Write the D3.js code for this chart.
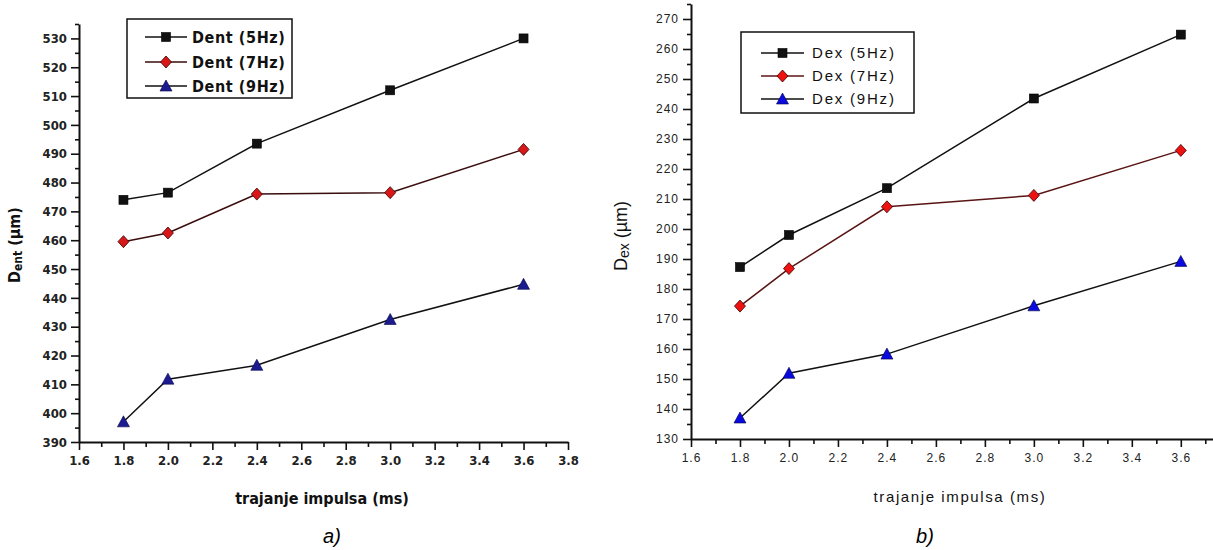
<!DOCTYPE html>
<html>
<head>
<meta charset="utf-8">
<script src="https://cdn.jsdelivr.net/npm/d3@7"></script>
<style>
  body { margin: 0; background: #fff; }
  svg { display: block; }
</style>
</head>
<body>
<div></div>
<script>
// x values (trajanje impulsa, ms)
let impulsi = [1.8, 2.0, 2.4, 3.0, 3.6];

// panel a) Dent
let dent5 = [474, 476.5, 493.5, 512, 530];
let dent7 = [459.5, 462.5, 476, 476.5, 491.5];
let dent9 = [397, 411.8, 416.6, 432.5, 444.7];
let dentLabels = ["Dent (5Hz)", "Dent (7Hz)", "Dent (9Hz)"];

// panel b) Dex
let dex5 = [187.3, 198, 213.6, 243.5, 264.8];
let dex7 = [174.3, 186.8, 207.4, 211.2, 226.2];
let dex9 = [137, 151.9, 158.3, 174.4, 189.2];
let dexLabels = ["Dex (5Hz)", "Dex (7Hz)", "Dex (9Hz)"];

let xTicks = [1.6, 1.8, 2.0, 2.2, 2.4, 2.6, 2.8, 3.0, 3.2, 3.4, 3.6, 3.8];
let dentTicks = d3.range(390, 531, 10);
let dexTicks = d3.range(130, 271, 10);

let svgWidth = 1213;
let svgHeight = 550;

let svg = d3.select("body div")
    .append("svg")
    .attr("width", svgWidth)
    .attr("height", svgHeight);

// panel styles
let panelA = {
    x0: 79, x1: 568, yTop: 24, yBot: 442,
    yDomain: [390, 535], yTicks: dentTicks,
    series: [dent5, dent7, dent9], labels: dentLabels,
    font: "'Liberation Sans Narrow', 'DejaVu Sans Condensed', Arial, sans-serif",
    weight: "bold", spacing: 0, tickSize: 13,
    lineColors: ["#111", "#3a0d0d", "#111"],
    markColors: ["#111", "#d81818", "#1c1c90"],
    legend: {x: 127, y: 19, w: 165, h: 79, rows: [37, 62, 86], lx0: 145, lx1: 187, tx: 192, fs: 16, ls: 0.6},
    yTitle: {x: 20, y: 245, main: "D", sub: "ent", rest: " (\u00b5m)", fs: 16},
    xTitle: {x: 322, y: 504, fs: 16, ls: 0},
    caption: {x: 332, y: 543, text: "a)"}
};

let panelB = {
    x0: 691, x1: 691 + 2.2 * 244.9, yTop: 4, yBot: 439,
    yDomain: [130, 275], yTicks: dexTicks,
    series: [dex5, dex7, dex9], labels: dexLabels,
    font: "Arial, 'Liberation Sans', sans-serif",
    weight: "normal", spacing: 1, tickSize: 12,
    lineColors: ["#111", "#5a1414", "#111"],
    markColors: ["#111", "#ee1111", "#0a0ae0"],
    legend: {x: 741, y: 32, w: 173, h: 81, rows: [53, 76, 99], lx0: 761, lx1: 804, tx: 812, fs: 15, ls: 1.8},
    yTitle: {x: 627, y: 236, main: "D", sub: "ex", rest: " (\u00b5m)", fs: 18},
    xTitle: {x: 960, y: 502, fs: 15, ls: 1.6},
    caption: {x: 925, y: 543, text: "b)"}
};

function marker(g, kind, x, y, color)
{
    if (kind == 0) {
        g.append("rect")
            .attr("x", x - 4.5).attr("y", y - 4.5)
            .attr("width", 9).attr("height", 9)
            .attr("fill", color).attr("stroke", "#000").attr("stroke-width", 0.6);
    } else if (kind == 1) {
        g.append("path")
            .attr("d", "M0,-6L5.5,0L0,6L-5.5,0Z")
            .attr("transform", "translate(" + x + "," + y + ")")
            .attr("fill", color).attr("stroke", "#3a0000").attr("stroke-width", 0.8);
    } else {
        g.append("path")
            .attr("d", "M0,-6L6,5L-6,5Z")
            .attr("transform", "translate(" + x + "," + y + ")")
            .attr("fill", color).attr("stroke", "#000040").attr("stroke-width", 0.6);
    }
}

function drawPanel(p)
{
    let g = svg.append("g");
    let x = d3.scaleLinear().domain([1.6, 3.8]).range([p.x0, p.x1]);
    let y = d3.scaleLinear().domain(p.yDomain).range([p.yBot, p.yTop]);

    // minor ticks
    let xMinor = d3.range(1.7, 3.85, 0.2);
    let yMinor = d3.range(p.yDomain[0] + 5, p.yDomain[1] + 0.1, 10);
    g.append("g")
        .attr("transform", "translate(0," + p.yBot + ")")
        .call(d3.axisBottom(x).tickValues(xMinor).tickSize(5).tickFormat(""))
        .call(a => a.select(".domain").remove());
    g.append("g")
        .attr("transform", "translate(" + p.x0 + ",0)")
        .call(d3.axisLeft(y).tickValues(yMinor).tickSize(4).tickFormat(""))
        .call(a => a.select(".domain").remove());

    // major axes (labels past the picture edge are left out)
    let fx = d3.format(".1f");
    let xa = g.append("g")
        .attr("transform", "translate(0," + p.yBot + ")")
        .call(d3.axisBottom(x).tickValues(xTicks).tickSize(8).tickSizeOuter(0)
            .tickPadding(6).tickFormat(d => x(d) > svgWidth - 8 ? "" : fx(d)));
    let ya = g.append("g")
        .attr("transform", "translate(" + p.x0 + ",0)")
        .call(d3.axisLeft(y).tickValues(p.yTicks).tickSize(8).tickSizeOuter(0)
            .tickPadding(4).tickFormat(d3.format("d")));
    [xa, ya].forEach(a => {
        a.select(".domain").attr("stroke", "#111").attr("stroke-width", 2);
        a.selectAll("text")
            .attr("fill", "#222")
            .style("font-family", p.font)
            .style("font-weight", p.weight)
            .style("font-size", p.tickSize + "px")
            .style("letter-spacing", p.spacing + "px");
    });
    g.selectAll(".tick line").attr("stroke", "#111").attr("stroke-width", 1.6);

    // lines and markers
    let line = d3.line().x((d, i) => x(impulsi[i])).y(d => y(d));
    p.series.forEach((s, k) => {
        g.append("path")
            .datum(s)
            .attr("d", line)
            .attr("fill", "none")
            .attr("stroke", p.lineColors[k])
            .attr("stroke-width", 1.5);
    });
    p.series.forEach((s, k) => {
        s.forEach((v, i) => marker(g, k, x(impulsi[i]), y(v), p.markColors[k]));
    });

    // legend
    let L = p.legend;
    g.append("rect")
        .attr("x", L.x).attr("y", L.y).attr("width", L.w).attr("height", L.h)
        .attr("fill", "#fff").attr("stroke", "#111").attr("stroke-width", 1.5);
    p.labels.forEach((t, k) => {
        let ry = L.rows[k];
        g.append("line")
            .attr("x1", L.lx0).attr("x2", L.lx1).attr("y1", ry).attr("y2", ry)
            .attr("stroke", p.lineColors[k]).attr("stroke-width", 1.5);
        marker(g, k, (L.lx0 + L.lx1) / 2, ry, p.markColors[k]);
        g.append("text")
            .attr("x", L.tx).attr("y", ry + L.fs * 0.36)
            .attr("fill", "#111")
            .style("font-family", p.font)
            .style("font-weight", p.weight)
            .style("font-size", L.fs + "px")
            .style("letter-spacing", L.ls + "px")
            .text(t);
    });

    // y title
    let T = p.yTitle;
    let yt = g.append("text")
        .attr("transform", "translate(" + T.x + "," + T.y + ") rotate(-90)")
        .attr("text-anchor", "middle")
        .attr("fill", "#111")
        .style("font-family", p.font)
        .style("font-weight", p.weight)
        .style("font-size", T.fs + "px");
    yt.append("tspan").text(T.main);
    yt.append("tspan").attr("dy", 2).style("font-size", (T.fs - 4) + "px").text(T.sub);
    yt.append("tspan").attr("dy", -2).text(T.rest);

    // x title
    g.append("text")
        .attr("x", p.xTitle.x).attr("y", p.xTitle.y)
        .attr("text-anchor", "middle")
        .attr("fill", "#111")
        .style("font-family", p.font)
        .style("font-weight", p.weight)
        .style("font-size", p.xTitle.fs + "px")
        .style("letter-spacing", p.xTitle.ls + "px")
        .text("trajanje impulsa (ms)");

    // caption
    g.append("text")
        .attr("x", p.caption.x).attr("y", p.caption.y)
        .attr("text-anchor", "middle")
        .attr("fill", "#000")
        .style("font-family", "Arial, 'Liberation Sans', sans-serif")
        .style("font-style", "italic")
        .style("font-size", "20px")
        .text(p.caption.text);
}

drawPanel(panelA);
drawPanel(panelB);
</script>
</body>
</html>
